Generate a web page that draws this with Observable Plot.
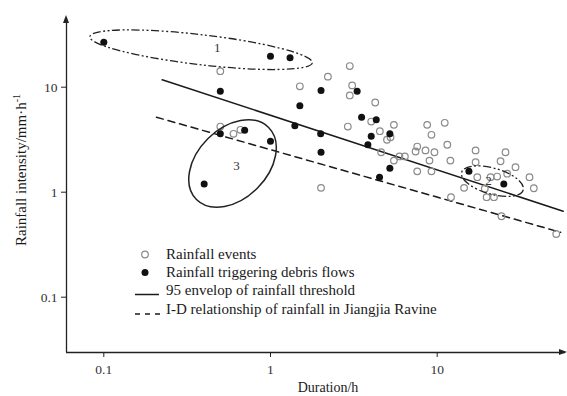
<!DOCTYPE html>
<html><head><meta charset="utf-8">
<script src="https://cdn.jsdelivr.net/npm/d3@7"></script>
<script src="https://cdn.jsdelivr.net/npm/@observablehq/plot@0.6"></script>
<style>body{margin:0;background:#fff}svg{display:block}</style>
</head><body><div id="chart"></div>
<script>
// Rainfall events (open circles)
const eventDuration = [0.5, 1.5, 0.5, 0.6, 0.66, 2.99, 2.21, 3.09, 2.99, 4.25, 4.02, 2.91, 4.53, 5.5, 8.71, 11.1, 9.24, 5.0, 5.25, 2.01, 4.61, 5.5, 6.4, 5.94, 7.59, 7.42, 8.51, 9.63, 8.99, 11.5, 12.0, 7.59, 9.24, 17, 17, 14.5, 12.1, 17.4, 24, 25.7, 20.9, 22.9, 26.3, 19.3, 19.8, 21.9, 29.5, 35.8, 38, 24.3, 51.8];
const eventIntensity = [14.2, 10.2, 4.22, 3.6, 3.93, 15.9, 12.6, 10.4, 8.34, 7.15, 4.71, 4.22, 3.81, 4.38, 4.38, 4.58, 3.52, 3.16, 3.34, 1.1, 2.4, 2.0, 2.19, 2.19, 2.72, 2.44, 2.5, 2.4, 2.0, 2.83, 2.0, 1.58, 1.58, 2.5, 1.93, 1.1, 0.896, 1.39, 1.97, 2.4, 1.39, 1.41, 1.5, 1.08, 0.896, 0.896, 1.73, 1.39, 1.09, 0.59, 0.4];
// Rainfall triggering debris flows (filled circles)
const debrisDuration = [0.1, 1.0, 1.31, 0.5, 1.5, 1.4, 0.5, 0.70, 1.0, 0.40, 2.01, 3.31, 3.52, 4.31, 4.02, 5.2, 2.0, 3.84, 2.01, 5.2, 4.51, 15.5, 25.1];
const debrisIntensity = [26.8, 19.7, 19.1, 9.16, 6.65, 4.29, 3.6, 3.9, 3.06, 1.2, 9.3, 9.16, 5.18, 4.9, 3.41, 3.6, 3.6, 2.83, 2.4, 1.69, 1.39, 1.58, 1.2];
// Power-law lines I = a * D^b
const thresholdCoef = [5.4, -0.52];
const thresholdRange = [0.224, 57];
const idCoef = [2.54, -0.452];
const idRange = [0.207, 55];
// Ticks
const xTicks = [0.1, 1, 10];
const xTickLabels = ["0.1", "1", "10"];
const yTicks = [0.1, 1, 10];
const yTickLabels = ["0.1", "1", "10"];
// Group annotations
const groupNames = ["1", "2", "3"];
const groupCenterD = [0.386, 21.6, 0.596];
const groupCenterI = [22.5, 1.26, 1.856];
const groupLabelD = [0.479, 20.3, 0.625];
const groupLabelI = [23.5, 1.29, 1.80];
const groupRx = [112, 32, 51];
const groupRy = [15, 13, 35];
const groupAngle = [6.7, 16, -45];
const groupDashed = [true, true, false];
const legendLabels = ["Rainfall events", "Rainfall triggering debris flows", "95 envelop of rainfall threshold", "I-D relationship of rainfall in Jiangjia Ravine"];
const xTitle = "Duration/h";

const events = eventDuration.map((d, i) => ({d, v: eventIntensity[i]}));
const debris = debrisDuration.map((d, i) => ({d, v: debrisIntensity[i]}));
const powerLine = (c, r) => r.map(d => ({d, v: c[0] * Math.pow(d, c[1])}));
const thresholdLine = powerLine(thresholdCoef, thresholdRange);
const idLine = powerLine(idCoef, idRange);
const labels = groupNames.map((n, i) => ({n, d: groupLabelD[i], v: groupLabelI[i]}));

const xDomain = [0.05973, 58.86];
const yDomain = [0.02974, 45.1];
const serif = "'Liberation Serif', 'Times New Roman', Times, serif";

const chart = Plot.plot({
  width: 567, height: 396,
  marginLeft: 66, marginRight: 2, marginTop: 18, marginBottom: 44,
  style: {fontFamily: serif, fontSize: "13.5px", background: "#fff", color: "#222"},
  x: {type: "log", domain: xDomain},
  y: {type: "log", domain: yDomain},
  marks: [
    Plot.axisX({ticks: xTicks, tickFormat: d => xTickLabels[xTicks.indexOf(d)], tickSize: 5, tickPadding: 7, label: null, stroke: "#222", fill: "#333", fontSize: 13.5, fontFamily: serif}),
    Plot.axisY({ticks: yTicks, tickFormat: d => yTickLabels[yTicks.indexOf(d)], tickSize: 5, tickPadding: 4, label: null, stroke: "#222", fill: "#333", fontSize: 13.5, fontFamily: serif}),
    Plot.ruleX([xDomain[0]], {stroke: "#222", strokeWidth: 1.3}),
    Plot.ruleY([yDomain[0]], {stroke: "#222", strokeWidth: 1.3}),
    Plot.line(thresholdLine, {x: "d", y: "v", stroke: "#1a1a1a", strokeWidth: 1.5}),
    Plot.line(idLine, {x: "d", y: "v", stroke: "#1a1a1a", strokeWidth: 1.5, strokeDasharray: "7,5"}),
    Plot.dot(events, {x: "d", y: "v", r: 3.3, stroke: "#8a8a8a", strokeWidth: 1.2, fill: "none"}),
    Plot.dot(debris, {x: "d", y: "v", r: 3.5, fill: "#111", stroke: "none"}),
    Plot.text(labels, {x: "d", y: "v", text: "n", fontSize: 13, fill: "#333", fontFamily: serif})
  ]
});

const svg = d3.select(chart);
const sx = chart.scale("x"), sy = chart.scale("y");
const x0 = sx.range[0], x1 = sx.range[1], y0 = sy.range[0], y1 = sy.range[1];
// arrowheads
svg.append("path").attr("d", `M${x1 + 2},${y0} L${x1 - 6},${y0 - 3} L${x1 - 6},${y0 + 3} Z`).attr("fill", "#222");
svg.append("path").attr("d", `M${x0},${y1 - 3} L${x0 - 3},${y1 + 5} L${x0 + 3},${y1 + 5} Z`).attr("fill", "#222");
// group ellipses
groupNames.forEach((n, i) => {
  const cx = sx.apply(groupCenterD[i]), cy = sy.apply(groupCenterI[i]);
  svg.append("ellipse")
    .attr("cx", cx).attr("cy", cy).attr("rx", groupRx[i]).attr("ry", groupRy[i])
    .attr("transform", `rotate(${groupAngle[i]} ${cx} ${cy})`)
    .attr("fill", "none").attr("stroke", "#222").attr("stroke-width", groupDashed[i] ? 1.3 : 1.5)
    .attr("stroke-dasharray", groupDashed[i] ? "8,2.5,2,2.5,2,2.5" : null);
});
// legend
const lg = svg.append("g").attr("font-family", serif).attr("font-size", 15).attr("fill", "#1a1a1a").attr("text-anchor", "start");
const rows = [259, 277, 295, 313.5];
lg.append("circle").attr("cx", 145).attr("cy", 254.5).attr("r", 3.3).attr("fill", "none").attr("stroke", "#8a8a8a").attr("stroke-width", 1.2);
lg.append("circle").attr("cx", 145).attr("cy", 272.5).attr("r", 3.5).attr("fill", "#111");
lg.append("line").attr("x1", 135).attr("x2", 159).attr("y1", 294.5).attr("y2", 294.5).attr("stroke", "#1a1a1a").attr("stroke-width", 1.5);
lg.append("line").attr("x1", 135).attr("x2", 160).attr("y1", 314).attr("y2", 314).attr("stroke", "#1a1a1a").attr("stroke-width", 1.5).attr("stroke-dasharray", "5,5");
legendLabels.forEach((t, i) => lg.append("text").attr("x", 166).attr("y", rows[i]).attr("text-anchor", "start").text(t));
// axis titles
svg.append("text").attr("x", 328).attr("y", 392).attr("text-anchor", "middle")
  .attr("font-family", serif).attr("font-size", 14).attr("fill", "#1a1a1a").text(xTitle);
const yt = svg.append("text").attr("transform", "translate(26,170) rotate(-90)").attr("text-anchor", "middle")
  .attr("font-family", serif).attr("font-size", 15).attr("fill", "#1a1a1a");
yt.append("tspan").text("Rainfall intensity/mm·h");
yt.append("tspan").attr("dy", -6).attr("font-size", 10).text("-1");

document.getElementById("chart").appendChild(chart);
</script>
</body></html>
